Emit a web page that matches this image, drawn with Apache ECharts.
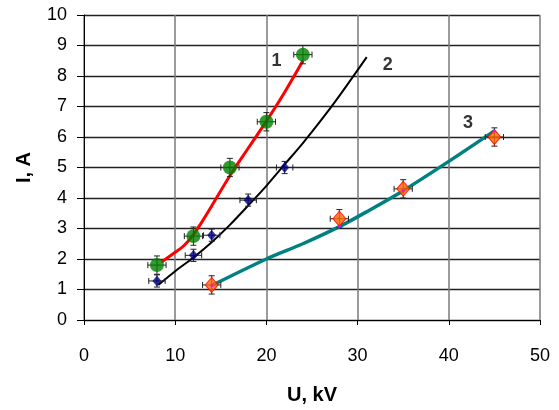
<!DOCTYPE html>
<html>
<head>
<meta charset="utf-8">
<script src="https://cdn.jsdelivr.net/npm/echarts@6/dist/echarts.min.js"></script>
<style>html,body{margin:0;padding:0;background:#fff}#c{width:559px;height:410px}</style>
</head>
<body>
<div id="c"></div>
<script>
// Measured points
const s1U = [8, 12, 16, 20, 24];
const s1I = [1.8, 2.75, 5.0, 6.5, 8.7];
const s2U = [8, 12, 14, 18, 22];
const s2I = [1.28, 2.12, 2.78, 3.93, 5.0];
const s3U = [14, 28, 35, 45];
const s3I = [1.15, 3.32, 4.3, 6.0];
// Error sizes (U in kV, I in A)
const s1ErrU = [1, 1, 1, 1, 1];
const s1ErrI = [0.3, 0.3, 0.3, 0.3, 0.3];
const s2ErrU = [0.9, 0.9, 0.9, 0.9, 0.9];
const s2ErrI = [0.2, 0.2, 0.2, 0.2, 0.2];
const s3ErrU = [1, 1, 1, 1];
const s3ErrI = [0.3, 0.3, 0.3, 0.3];
// Fitted curves
const fit1U = [8.5, 10, 11, 12, 13, 14, 16, 18, 20, 22, 24];
const fit1I = [1.9, 2.22, 2.45, 2.8, 3.25, 3.74, 4.73, 5.63, 6.52, 7.47, 8.5];
const fit2U = [8.15, 10, 12, 14, 16, 18, 20, 22, 24, 26, 28, 31];
const fit2I = [1.15, 1.6, 2.05, 2.55, 3.12, 3.75, 4.4, 5.1, 5.8, 6.55, 7.35, 8.62];
const fit3U = [14, 20, 24, 28, 31, 35, 40, 45];
const fit3I = [1.13, 2.0, 2.5, 3.06, 3.55, 4.24, 5.2, 6.2];
const fit3DotU = [14, 28, 35, 45];
const fit3DotI = [1.13, 3.06, 4.24, 6.2];
// Curve labels
const labelText = ['1', '2', '3'];
const labelU = [21.1, 33.3, 42.1];
const labelI = [8.48, 8.37, 6.45];

const zip = (a, b) => a.map((v, i) => [v, b[i]]);
const errData = (u, i, eu, ei) => u.map((v, k) => [v, i[k], eu[k], ei[k]]);

function renderErr(params, api) {
  const x = api.value(0), y = api.value(1), ex = api.value(2), ey = api.value(3);
  const c = api.coord([x, y]);
  const l = api.coord([x - ex, y]), r = api.coord([x + ex, y]);
  const t = api.coord([x, y + ey]), b = api.coord([x, y - ey]);
  const cap = 3;
  const st = { stroke: '#222', lineWidth: 1 };
  const line = (x1, y1, x2, y2) => ({ type: 'line', shape: { x1, y1, x2, y2 }, style: st });
  return {
    type: 'group',
    children: [
      line(l[0], c[1], r[0], c[1]),
      line(l[0], c[1] - cap, l[0], c[1] + cap),
      line(r[0], c[1] - cap, r[0], c[1] + cap),
      line(c[0], t[1], c[0], b[1]),
      line(c[0] - cap, t[1], c[0] + cap, t[1]),
      line(c[0] - cap, b[1], c[0] + cap, b[1])
    ]
  };
}

const chart = echarts.init(document.getElementById('c'), null, { renderer: 'canvas' });
const fontF = 'Arial, "Liberation Sans", sans-serif';
chart.setOption({
  animation: false,
  backgroundColor: '#fff',
  grid: { left: 84, right: 19, top: 15, bottom: 88, show: false },
  xAxis: {
    type: 'value', min: 0, max: 50, interval: 10,
    name: 'U, kV', nameLocation: 'middle', nameGap: 65,
    nameTextStyle: { fontFamily: fontF, fontSize: 20, fontWeight: 'bold', color: '#000' },
    axisLine: { show: true, onZero: false, lineStyle: { color: '#000', width: 1 } },
    axisTick: { show: true, inside: false, length: 5, lineStyle: { color: '#000' } },
    axisLabel: { fontFamily: fontF, fontSize: 18, color: '#000', margin: 27 },
    splitLine: { show: true, lineStyle: { color: '#7a7a7a', width: 1.5 } }
  },
  yAxis: {
    type: 'value', min: 0, max: 10, interval: 1,
    name: 'I, A', nameLocation: 'middle', nameGap: 50,
    nameTextStyle: { fontFamily: fontF, fontSize: 20, fontWeight: 'bold', color: '#000' },
    axisLine: { show: true, onZero: false, lineStyle: { color: '#000', width: 1 } },
    axisTick: { show: true, inside: false, length: 7, lineStyle: { color: '#000' } },
    axisLabel: { fontFamily: fontF, fontSize: 18, color: '#000', margin: 17 },
    splitLine: { show: true, lineStyle: { color: '#222', width: 1.3 } }
  },
  series: [
    { type: 'line', data: zip(fit1U, fit1I), smooth: 0.4, symbol: 'none',
      lineStyle: { color: '#ff0000', width: 3 }, z: 3 },
    { type: 'line', data: zip(fit2U, fit2I), smooth: 0.3, symbol: 'none',
      lineStyle: { color: '#000', width: 2 }, z: 3 },
    { type: 'line', data: zip(fit3U, fit3I), smooth: 0.3, symbol: 'none',
      lineStyle: { color: '#008080', width: 3.5 }, z: 3 },
    { type: 'custom', renderItem: renderErr, data: errData(s1U, s1I, s1ErrU, s1ErrI), z: 4 },
    { type: 'custom', renderItem: renderErr, data: errData(s2U, s2I, s2ErrU, s2ErrI), z: 4 },
    { type: 'custom', renderItem: renderErr, data: errData(s3U, s3I, s3ErrU, s3ErrI), z: 4 },
    { type: 'scatter', data: zip(s1U, s1I), symbol: 'circle', symbolSize: 14,
      itemStyle: { color: '#008000' }, z: 5 },
    { type: 'scatter', data: zip(s2U, s2I), symbol: 'diamond', symbolSize: [9, 11],
      itemStyle: { color: '#000080' }, z: 5 },
    { type: 'scatter', data: zip(s3U, s3I), symbol: 'diamond', symbolSize: [13, 15],
      itemStyle: { color: '#ff6600', borderColor: '#ff0000', borderWidth: 1 }, z: 5 },
    { type: 'scatter', data: zip(fit3DotU, fit3DotI), symbol: 'circle', symbolSize: 3,
      itemStyle: { color: '#ff00ff' }, z: 6 },
    { type: 'scatter', data: labelU.map((u, k) => [u, labelI[k], labelText[k]]),
      symbolSize: 0, z: 6,
      label: { show: true, position: 'inside', formatter: p => p.value[2],
        fontFamily: fontF, fontSize: 18, fontWeight: 'bold', color: '#000' } }
  ]
});
</script>
</body>
</html>
